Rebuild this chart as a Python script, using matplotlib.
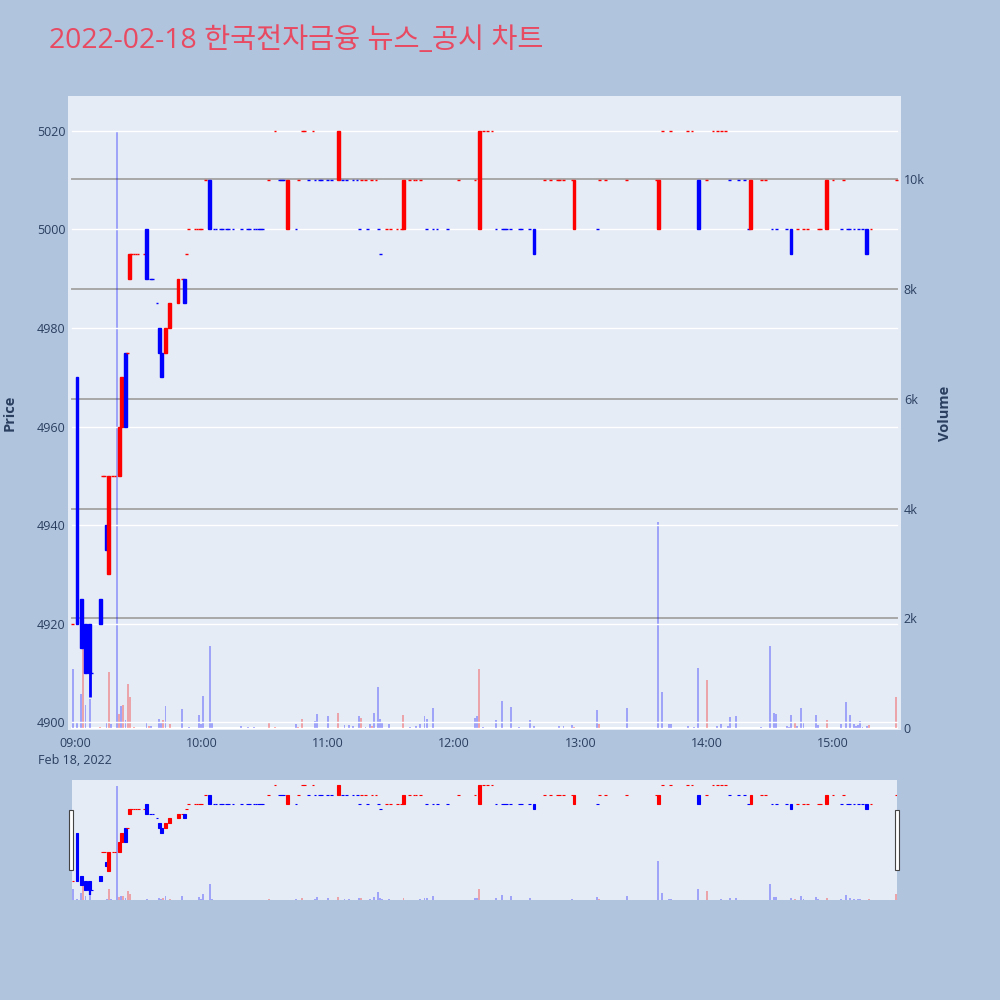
import matplotlib.pyplot as plt
from matplotlib.patches import Rectangle
from matplotlib.ticker import FuncFormatter

plt.rcParams['font.family'] = ['Open Sans', 'Noto Sans CJK KR', 'DejaVu Sans']

TITLE = '2022-02-18 한국전자금융 뉴스_공시 차트'
UP_COLOR = '#ff0000'
DOWN_COLOR = '#0000ff'
TEXT_COLOR = '#2a3f5f'
PLOT_BG = '#e5ecf6'
PAPER_BG = '#b0c4de'

# one-minute candles, minutes after 09:00
candle_min = [-1, 1, 3, 5, 7, 8, 12, 13, 14, 15, 16, 18, 19, 21, 22, 24, 25, 26,
              27, 28, 29, 30, 33, 34, 36, 37, 39, 40, 41, 43, 45, 49, 51, 52, 53,
              54, 57, 58, 59, 60, 62, 64, 66, 67, 69, 70, 72, 73, 75, 79, 82, 83, 85, 86, 87, 88, 89,
              92, 95, 97, 98, 99, 101, 105, 106, 108, 109, 111, 113, 114, 116, 117, 120, 122,
              125, 127, 129, 132, 134, 135, 136, 138, 139, 141, 143, 144, 145, 148, 150, 153, 155, 156,
              159, 161, 162, 164, 167, 170, 172, 177, 182, 190, 192, 194, 196, 198,
              200, 203, 204, 205, 207, 211, 212, 216, 218, 223, 226, 229, 230, 232, 236, 237,
              248, 249, 252, 262, 276, 277, 279, 283, 291, 293, 296, 300,
              303, 305, 307, 309, 311, 315, 318, 320, 321, 326, 328, 331, 333, 338, 340,
              343, 346, 348, 353, 354, 357, 360, 364, 365, 367, 368, 370, 372, 374, 376, 378, 390]
candle_open = ([4920, 4970, 4925, 4920, 4920, 4910, 4925, 4950, 4950, 4940, 4930, 4950, 4950, 4950, 4960, 4975, 4975, 4990]
               + [4995, 4995, 4995, 4995, 4995, 5000, 4990, 4990, 4985, 4980, 4975, 4975, 4980, 4985, 4990, 4990, 4995]
               + [5000] * 5 + [5010, 5010] + [5000] * 15
               + [5010, 5020, 5010, 5010, 5010, 5000, 5000, 5010, 5020, 5020, 5010, 5020, 5010, 5010, 5010, 5010, 5010]
               + [5010, 5010, 5010, 5010, 5010, 5000, 5010, 5010, 5000, 5010, 5010, 5000, 4995, 5000, 5000, 5000, 5000, 5000]
               + [5010, 5010, 5010, 5010, 5000, 5000, 5000, 5000, 5010, 5010, 5000, 5020, 5020, 5020]
               + [5000] * 9 + [5010] * 6 + [5000]
               + [5000, 5010, 5010, 5010, 5010, 5000, 5020, 5020, 5020, 5020, 5010, 5010]
               + [5020] * 4 + [5010] * 3 + [5000, 5000, 5010, 5010, 5000, 5000, 5000, 5000]
               + [5000] * 6 + [5010, 5000, 5010] + [5000] * 7 + [5010])
candle_close = ([4920, 4920, 4915, 4910, 4910, 4910, 4920, 4950, 4950, 4935, 4950, 4950, 4950, 4960, 4970, 4960, 4975, 4995]
                + [4995, 4995, 4995, 4995, 4995, 4990, 4990, 4990, 4985, 4975, 4970, 4980, 4985, 4990, 4990, 4985, 4995]
                + [5000] * 5 + [5010, 5000] + [5000] * 15
                + [5010, 5020, 5010, 5010, 5010, 5010, 5000, 5010, 5020, 5020, 5010, 5020, 5010, 5010, 5010, 5010, 5010]
                + [5020, 5010, 5010, 5010, 5010, 5000, 5010, 5010, 5000, 5010, 5010, 5000, 4995, 5000, 5000, 5000, 5000, 5010]
                + [5010, 5010, 5010, 5010, 5000, 5000, 5000, 5000, 5010, 5010, 5020, 5020, 5020, 5020]
                + [5000] * 8 + [4995] + [5010] * 7
                + [5000, 5010, 5010, 5010, 5010, 5010, 5020, 5020, 5020, 5020, 5000, 5010]
                + [5020] * 4 + [5010] * 3 + [5000, 5010, 5010, 5010, 5000, 5000, 5000, 4995]
                + [5000] * 5 + [5010, 5010, 5000, 5010] + [5000] * 5 + [4995, 5000, 5010])
# the only visible lower shadow
tail_min = [7]
tail_low = [4905]

# volume per minute, up flag = drawn red
vol_min = [-1, 1, 3, 4, 5, 7, 12, 15, 16, 17, 20, 21, 22, 23, 24, 25, 26, 28, 34, 35, 36,
           40, 41, 42, 43, 45, 51, 54, 59, 60, 61, 64, 65, 79, 82, 85, 92, 95, 105, 106, 108,
           114, 115, 120, 125, 128, 130, 132, 135, 136, 138, 140, 141, 142, 144, 145, 146, 149,
           156, 159, 162, 164, 166, 167, 170, 190, 191, 192, 194, 200, 203, 207, 211, 216, 218,
           230, 232, 236, 237, 248, 249, 262, 277, 279, 282, 283, 291, 294, 296, 300, 305, 307,
           310, 311, 314, 321, 326, 330, 332, 333, 338, 339, 340, 342, 343, 345, 346, 352, 353,
           357, 364, 366, 368, 370, 371, 372, 373, 374, 376, 377, 390]
volume = [1075, 110, 632, 1900, 419, 540, 15, 97, 1030, 85, 10870, 255, 400, 419, 146, 813, 570, 15, 103, 35, 35,
          164, 97, 146, 413, 85, 346, 15, 243, 85, 589, 1494, 97, 40, 15, 15, 109, 15, 73, 25, 164,
          134, 261, 218, 285, 55, 55, 35, 225, 182, 15, 73, 40, 279, 753, 164, 115, 85,
          237, 25, 35, 85, 218, 176, 376, 182, 218, 1080, 15, 146, 498, 388, 15, 158, 35,
          35, 35, 67, 25, 328, 85, 376, 3752, 656, 85, 73, 35, 15, 1093, 874, 35, 85,
          35, 206, 218, 10, 15, 1505, 279, 255, 35, 25, 237, 115, 35, 370, 115, 249, 55,
          146, 85, 480, 237, 85, 35, 55, 127, 15, 35, 55, 570]
vol_up = [0, 0, 0, 1, 0, 0, 1, 0, 1, 0, 0, 1, 0, 1, 0, 1, 1, 1, 0, 1, 0,
          0, 0, 1, 0, 1, 0, 0, 0, 0, 0, 0, 0, 0, 0, 0, 1, 1, 0, 1, 1,
          0, 0, 0, 1, 0, 0, 0, 0, 1, 0, 0, 1, 0, 0, 0, 0, 0,
          1, 0, 0, 0, 0, 0, 0, 0, 0, 1, 0, 0, 0, 0, 0, 0, 0,
          0, 0, 0, 1, 0, 1, 0, 0, 0, 0, 0, 0, 0, 0, 1, 0, 0,
          0, 0, 0, 1, 0, 0, 0, 0, 0, 0, 0, 1, 0, 0, 0, 0, 0,
          1, 0, 0, 0, 0, 0, 0, 0, 0, 0, 1, 1]

price_ticks = [4900, 4920, 4940, 4960, 4980, 5000, 5020]
volume_ticks = [0, 2000, 4000, 6000, 8000, 10000]
hour_ticks = [0, 60, 120, 180, 240, 300, 360]
hour_labels = ['09:00\nFeb 18, 2022', '10:00', '11:00', '12:00', '13:00', '14:00', '15:00']


def candle_colors(opens, closes):
    # plotly rule: flat candles take the direction from the previous close
    colors = []
    prev_close, prev_up = None, True
    for o, c in zip(opens, closes):
        if c > o:
            up = True
        elif c < o:
            up = False
        elif prev_close is None or c == prev_close:
            up = prev_up
        else:
            up = c > prev_close
        colors.append(UP_COLOR if up else DOWN_COLOR)
        prev_close, prev_up = c, up
    return colors


def draw_candles(ax, lw):
    colors = candle_colors(candle_open, candle_close)
    bottoms = [min(o, c) for o, c in zip(candle_open, candle_close)]
    heights = [abs(c - o) for o, c in zip(candle_open, candle_close)]
    ax.bar(candle_min, heights, bottom=bottoms, width=1.3, color=colors,
           edgecolor=colors, linewidth=lw, zorder=3)
    for m, low in zip(tail_min, tail_low):
        i = candle_min.index(m)
        ax.vlines(m, low, bottoms[i], color=colors[i], linewidth=lw * 2, zorder=3)


def draw_volume(ax):
    colors = [UP_COLOR if u else DOWN_COLOR for u in vol_up]
    ax.bar(vol_min, volume, width=0.9, color=colors, alpha=0.3, linewidth=0, zorder=2)


fig = plt.figure(figsize=(10, 10), dpi=100, facecolor=PAPER_BG)

# main chart: volume axes underneath, price axes on top
volAx = fig.add_axes([0.068, 0.270, 0.833, 0.634])
volAx.set_facecolor(PLOT_BG)
priceAx = volAx.twinx()
priceAx.patch.set_visible(False)

for v in volume_ticks[1:]:
    volAx.axhline(v, xmin=0.005, xmax=0.995, color='#a8a8a8', linewidth=1.4, zorder=1)
volAx.axhline(0, xmin=0.005, xmax=0.995, color='white', linewidth=1.5, zorder=1)
for p in price_ticks:
    priceAx.axhline(p, xmin=0.005, xmax=0.995, color='white', linewidth=1.0, zorder=1)

draw_volume(volAx)
draw_candles(priceAx, 1.0)

volAx.set_xlim(-3.3, 392.3)
volAx.set_ylim(-31, 11514)
priceAx.set_ylim(4898.4, 5027.1)

volAx.set_xticks(hour_ticks)
volAx.set_xticklabels(hour_labels, linespacing=1.45)
volAx.yaxis.tick_right()
volAx.set_yticks(volume_ticks)
volAx.yaxis.set_major_formatter(FuncFormatter(lambda v, p: '0' if v == 0 else f'{int(v / 1000)}k'))
priceAx.yaxis.tick_left()
priceAx.set_yticks(price_ticks)

volAx.tick_params(axis='x', length=0, pad=5, labelsize=9, colors=TEXT_COLOR)
volAx.tick_params(axis='y', length=0, pad=2, labelsize=9, colors=TEXT_COLOR)
priceAx.tick_params(axis='y', length=0, pad=2, labelsize=9, colors=TEXT_COLOR)

for a in (volAx, priceAx):
    for s in a.spines.values():
        s.set_visible(False)

fig.text(0.010, 0.587, 'Price', rotation=90, ha='center', va='center',
         fontsize=10.5, fontweight='bold', color=TEXT_COLOR)
fig.text(0.945, 0.587, 'Volume', rotation=90, ha='center', va='center',
         fontsize=10.5, fontweight='bold', color=TEXT_COLOR)

# range slider overview
sliderVolAx = fig.add_axes([0.072, 0.100, 0.825, 0.120])
sliderVolAx.set_facecolor(PLOT_BG)
sliderPriceAx = sliderVolAx.twinx()
sliderPriceAx.patch.set_visible(False)
draw_volume(sliderVolAx)
draw_candles(sliderPriceAx, 0.8)
sliderVolAx.set_xlim(-1.42, 390.4)
sliderVolAx.set_ylim(0, 11446)
sliderPriceAx.set_ylim(4899.8, 5025.2)
for a in (sliderVolAx, sliderPriceAx):
    a.set_xticks([])
    a.set_yticks([])
    for s in a.spines.values():
        s.set_visible(False)

for hx in (0.069, 0.895):
    fig.patches.append(Rectangle((hx, 0.130), 0.004, 0.060, transform=fig.transFigure,
                                 facecolor='white', edgecolor='#444444', linewidth=0.8))

fig.text(0.049, 0.959, TITLE, fontsize=20.4, color='#e84a62', ha='left', va='center')

fig.savefig('out.png', dpi=100, facecolor=PAPER_BG)
